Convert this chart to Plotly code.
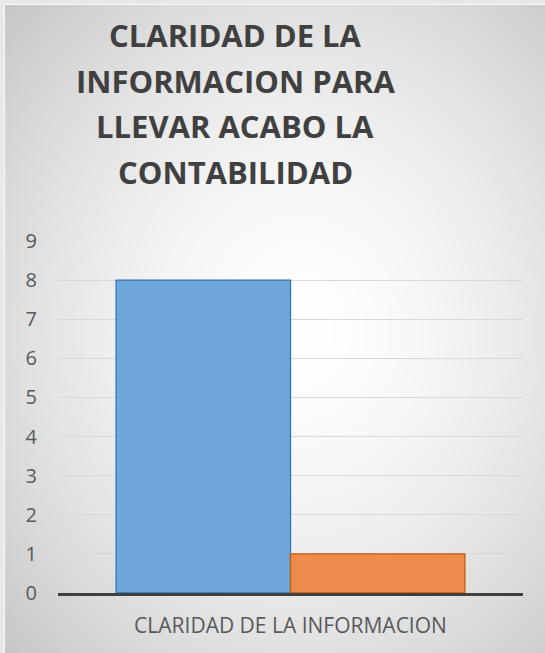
import base64, struct, zlib
import numpy as np
import plotly.graph_objects as go

# ---- data ----
categories = ["CLARIDAD DE LA INFORMACION"]
series_names = ["Serie 1", "Serie 2"]
series_values = [[8], [1]]
series_colors = ["#70a7da", "#ec8b4b"]
series_borders = ["#2e75b6", "#c55a11"]
title_lines = ["CLARIDAD DE LA", "INFORMACION PARA", "LLEVAR ACABO LA", "CONTABILIDAD"]
y_ticks = list(range(0, 10))

W, H = 545, 653
L, R, T, B = 58, 22, 241, 60
PW, PH = W - L - R, H - T - B

# ---- radial gradient background as PNG ----
yy, xx = np.mgrid[0:H, 0:W].astype(float)
d = np.sqrt(((xx - 300) / 300) ** 2 + ((yy - 330) / 350) ** 2)
v = 255 - 35 * d ** 1.6
v = np.clip(v, 190, 255)
v[(xx < 4) | (yy < 4)] = 232
v[((xx >= 4) & (xx < 5) & (yy >= 4)) | ((yy >= 4) & (yy < 5) & (xx >= 4))] = 248
img = v.astype(np.uint8)
raw = b"".join(b"\x00" + img[r].tobytes() for r in range(H))
def chunk(tag, data):
    c = struct.pack(">I", len(data)) + tag + data
    return c + struct.pack(">I", zlib.crc32(tag + data) & 0xffffffff)
png = b"\x89PNG\r\n\x1a\n" + chunk(b"IHDR", struct.pack(">IIBBBBB", W, H, 8, 0, 0, 0, 0)) \
    + chunk(b"IDAT", zlib.compress(raw, 9)) + chunk(b"IEND", b"")
uri = "data:image/png;base64," + base64.b64encode(png).decode()

fig = go.Figure()
for name, vals, col, bc in zip(series_names, series_values, series_colors, series_borders):
    fig.add_trace(go.Bar(x=categories, y=vals, name=name, marker=dict(color=col, line=dict(color=bc, width=1.3))))

fig.add_layout_image(dict(source=uri, xref="paper", yref="paper",
                          x=-L / PW, y=1 + T / PH, sizex=W / PW, sizey=H / PH,
                          xanchor="left", yanchor="top", sizing="stretch", layer="below"))

title_y_px = [35, 81, 126, 172]
for txt, py in zip(title_lines, title_y_px):
    fig.add_annotation(text="<b>" + txt + "</b>", xref="paper", yref="paper",
                       x=(235 - L) / PW, y=(H - B - py) / PH, xanchor="center", yanchor="middle",
                       showarrow=False, font=dict(family="Open Sans", size=31, color="#404040"))

fig.update_layout(
    width=W, height=H, margin=dict(l=L, r=R, t=T, b=B),
    paper_bgcolor="rgba(0,0,0,0)", plot_bgcolor="rgba(0,0,0,0)",
    barmode="group", bargap=0.25, bargroupgap=0, showlegend=False,
    font=dict(family="Open Sans", color="#595959"),
)
fig.update_yaxes(range=[0, 9], tickvals=y_ticks, showgrid=True, gridcolor="#d9d9d9", gridwidth=1,
                 zeroline=False, showline=False, tickfont=dict(size=20, color="#595959"),
                 ticks="", ticklabelstandoff=20)
fig.update_xaxes(showline=True, linecolor="#404040", linewidth=3, ticks="",
                 tickfont=dict(size=21, color="#595959"), ticklabelstandoff=12)

fig.write_html("out.html", config={"displayModeBar": False},
               post_script="document.body.style.margin='0';document.body.style.overflow='hidden';")
